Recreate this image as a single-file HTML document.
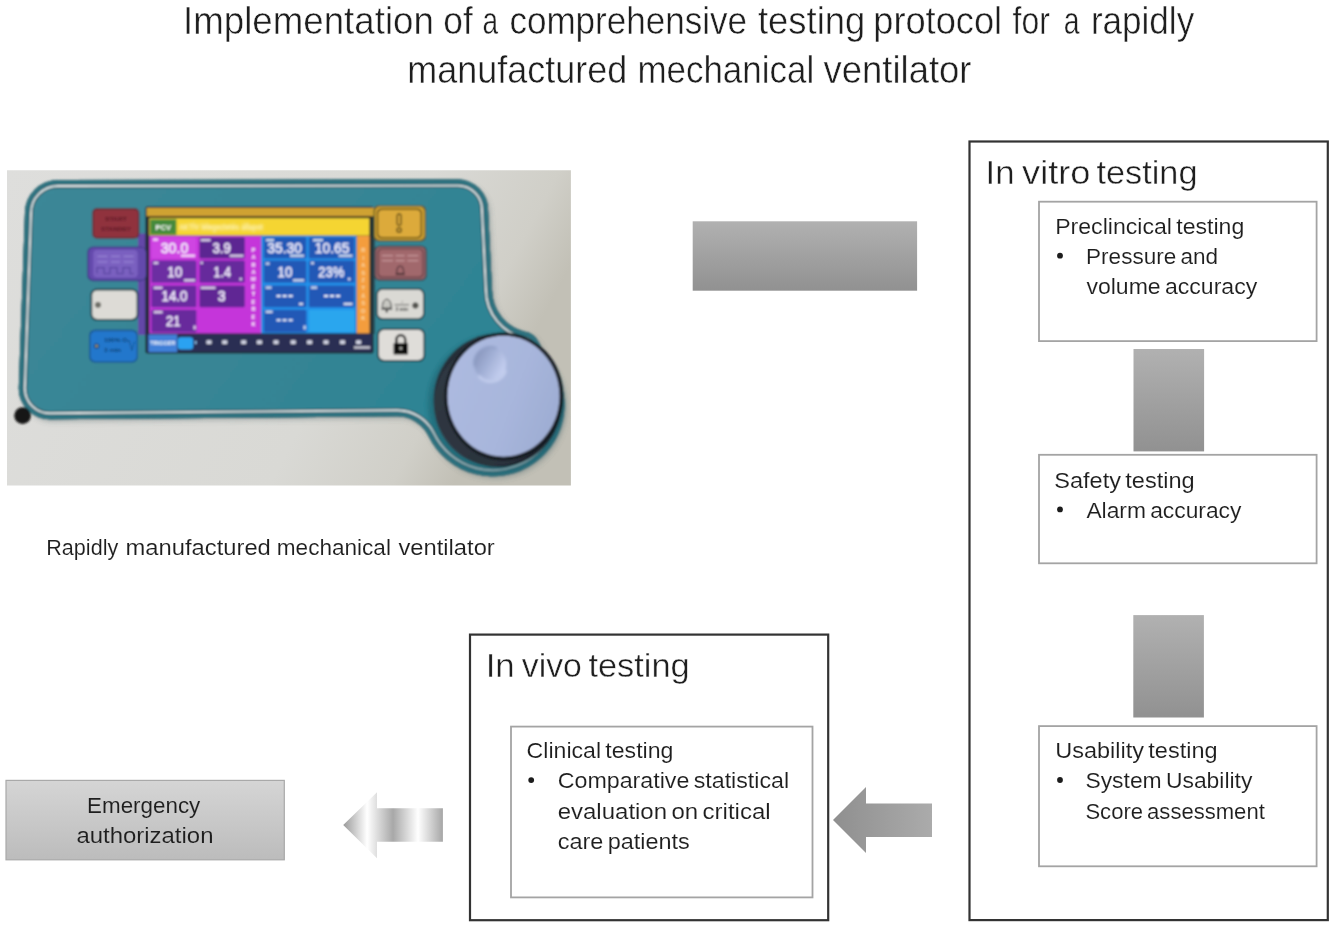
<!DOCTYPE html>
<html lang="en">
<head>
<meta charset="utf-8">
<title>Implementation of a comprehensive testing protocol for a rapidly manufactured mechanical ventilator</title>
<style>
  html, body { margin: 0; padding: 0; background: #ffffff; }
  body { width: 1333px; height: 926px; overflow: hidden; font-family: "Liberation Sans", sans-serif; }
  svg { display: block; will-change: transform; transform: translateZ(0); }
  text { font-family: "Liberation Sans", sans-serif; fill: #1e1e1e; stroke: #ffffff; stroke-width: 0.1px; word-spacing: -2px; }
  #title text { stroke-width: 0.5px; word-spacing: 0; }
  text.h2 { stroke-width: 0.42px; word-spacing: -3px; }
  text.scr { stroke: none; word-spacing: 0; }
  text.onGrey { stroke: #c8c8c8; }
</style>
</head>
<body>
<svg width="1333" height="926" viewBox="0 0 1333 926">
  <defs>
    <linearGradient id="gBar" x1="0" y1="0" x2="0" y2="1">
      <stop offset="0" stop-color="#b1b1b1"/>
      <stop offset="1" stop-color="#919191"/>
    </linearGradient>
    <linearGradient id="gEmerg" x1="0" y1="0" x2="0" y2="1">
      <stop offset="0" stop-color="#d5d5d5"/>
      <stop offset="1" stop-color="#bcbcbc"/>
    </linearGradient>
    <linearGradient id="gArrow1" x1="0" y1="0" x2="1" y2="0">
      <stop offset="0" stop-color="#8f8f8f"/>
      <stop offset="1" stop-color="#ababab"/>
    </linearGradient>
    <linearGradient id="gArrow2" x1="0" y1="0" x2="1" y2="0">
      <stop offset="0" stop-color="#9a9a9a"/>
      <stop offset="0.24" stop-color="#ffffff"/>
      <stop offset="0.5" stop-color="#a8a8a8"/>
      <stop offset="0.75" stop-color="#ffffff"/>
      <stop offset="1" stop-color="#a6a6a6"/>
    </linearGradient>
  </defs>

  <!-- ===== TITLE ===== -->
  <g id="title">
    <text x="183.0" y="33.6" font-size="39.5" textLength="250.9" lengthAdjust="spacingAndGlyphs">Implementation</text>
    <text x="443.3" y="33.6" font-size="39.5" textLength="29.4" lengthAdjust="spacingAndGlyphs">of</text>
    <text x="482.5" y="33.6" font-size="39.5" textLength="15.6" lengthAdjust="spacingAndGlyphs">a</text>
    <text x="509.4" y="33.6" font-size="39.5" textLength="237.7" lengthAdjust="spacingAndGlyphs">comprehensive</text>
    <text x="758.0" y="33.6" font-size="39.5" textLength="107.3" lengthAdjust="spacingAndGlyphs">testing</text>
    <text x="873.3" y="33.6" font-size="39.5" textLength="128.8" lengthAdjust="spacingAndGlyphs">protocol</text>
    <text x="1012.5" y="33.6" font-size="39.5" textLength="37.3" lengthAdjust="spacingAndGlyphs">for</text>
    <text x="1063.7" y="33.6" font-size="39.5" textLength="15.8" lengthAdjust="spacingAndGlyphs">a</text>
    <text x="1090.9" y="33.6" font-size="39.5" textLength="103.3" lengthAdjust="spacingAndGlyphs">rapidly</text>
    <text x="407.2" y="82.8" font-size="39.5" textLength="220.0" lengthAdjust="spacingAndGlyphs">manufactured</text>
    <text x="637.4" y="82.8" font-size="39.5" textLength="176.8" lengthAdjust="spacingAndGlyphs">mechanical</text>
    <text x="823.5" y="82.8" font-size="39.5" textLength="148.0" lengthAdjust="spacingAndGlyphs">ventilator</text>
  </g>

  <!-- ===== PHOTO (device) ===== -->
  <g id="photo">
    <defs>
      <clipPath id="photoClip"><rect x="7" y="170.2" width="563.9" height="315.2"/></clipPath>
      <path id="panelPath" d="M58,180 L458,179.6 A30,30 0 0 1 488,209.6 L492,290 A43,43 0 0 0 527,332.2 C534,333.6 540,341 543.6,354.4 A71.5,71.5 0 1 1 428.6,436.1 A35,35 0 0 0 397.1,416.3 L50,419.3 A31,31 0 0 1 18.8,388.5 L25,213 A33,33 0 0 1 58,180 Z"/>
      <clipPath id="panelClip"><use href="#panelPath"/></clipPath>
      <linearGradient id="gBg" x1="0" y1="0" x2="1" y2="0.3">
        <stop offset="0" stop-color="#dededc"/>
        <stop offset="0.7" stop-color="#d9d9d5"/>
        <stop offset="0.9" stop-color="#d0cfc8"/>
        <stop offset="1" stop-color="#c2c0b6"/>
      </linearGradient>
      <linearGradient id="gTeal" x1="0" y1="0" x2="1" y2="0.4">
        <stop offset="0" stop-color="#3c8797"/>
        <stop offset="0.55" stop-color="#378595"/>
        <stop offset="1" stop-color="#2b8494"/>
      </linearGradient>
      <linearGradient id="gRing" x1="0" y1="0" x2="1" y2="1">
        <stop offset="0" stop-color="#2a323c"/>
        <stop offset="1" stop-color="#1c2129"/>
      </linearGradient>
      <linearGradient id="gFace" x1="0" y1="0.2" x2="1" y2="0.6">
        <stop offset="0" stop-color="#adbae0"/>
        <stop offset="0.6" stop-color="#a8b6dc"/>
        <stop offset="1" stop-color="#9eadd3"/>
      </linearGradient>
      <linearGradient id="gDimple" x1="0.1" y1="0.25" x2="0.95" y2="0.75">
        <stop offset="0" stop-color="#8c9ac0"/>
        <stop offset="0.4" stop-color="#a2b0d6"/>
        <stop offset="1" stop-color="#c8d2f2"/>
      </linearGradient>
      <filter id="fSoft" x="-5%" y="-5%" width="110%" height="110%"><feGaussianBlur stdDeviation="0.9"/></filter>
      <filter id="fShadow" x="-10%" y="-10%" width="120%" height="120%"><feGaussianBlur stdDeviation="2.2"/></filter>
      <filter id="fTiny2" x="-20%" y="-40%" width="140%" height="180%"><feGaussianBlur stdDeviation="0.4"/></filter>
      <filter id="fTiny" x="-20%" y="-20%" width="140%" height="140%"><feGaussianBlur stdDeviation="0.8"/></filter>
    </defs>
    <g clip-path="url(#photoClip)">
      <rect x="7" y="170" width="564" height="316" fill="url(#gBg)"/>
      <g filter="url(#fSoft)">
        <!-- panel drop shadow -->
        <use href="#panelPath" transform="translate(2.5,3)" fill="#6f7f80" opacity="0.4" filter="url(#fShadow)"/>
        <!-- panel body -->
        <use href="#panelPath" fill="url(#gTeal)"/>
        <g clip-path="url(#panelClip)" fill="none">
          <use href="#panelPath" stroke="#24525c" stroke-width="16.4"/>
          <use href="#panelPath" stroke="#e0e8ea" stroke-width="14"/>
          <use href="#panelPath" stroke="#1f4e58" stroke-width="10.2"/>
          <use href="#panelPath" stroke="#2f7482" stroke-width="8.6"/>
          <use href="#panelPath" stroke="#2a6470" stroke-width="2"/>
        </g>
        <!-- black dot -->
        <circle cx="22.6" cy="415.6" r="8.4" fill="#141414"/>
        <!--SCREEN-->
        <rect x="138.0" y="233.5" width="11.0" height="101.5" rx="2" fill="#6346a8" />
        <rect x="145.4" y="206.4" width="228.2" height="147.0" rx="2" fill="#1d2a30" />
        <rect x="146.6" y="207.8" width="230.0" height="8.4" rx="0" fill="#cfa232" />
        <rect x="146.6" y="216.2" width="225.8" height="2.0" rx="0" fill="#3a3420" />
        <rect x="149.3" y="218.2" width="220.1" height="17.4" rx="0" fill="#f5d532" />
        <rect x="150.2" y="219.4" width="26.2" height="15.2" rx="0" fill="#458a3a" />
        <text class="scr" x="163.3" y="230.2" font-size="7.5" text-anchor="middle" font-weight="bold" style="fill:#ffffff" >PCV</text>
        <text class="scr" x="179" y="230.4" font-size="8.5" font-weight="bold" style="fill:#fffbe0" opacity="0.85" textLength="84" lengthAdjust="spacingAndGlyphs" filter="url(#fTiny)">AKTÍV lélegeztetés állapot</text>
        <rect x="149.3" y="235.8" width="112.1" height="97.6" rx="0" fill="#c536da" />
        <rect x="261.2" y="235.8" width="95.4" height="97.6" rx="0" fill="#2391ea" />
        <rect x="356.8" y="235.8" width="12.8" height="97.6" rx="0" fill="#f49d3c" />
        <rect x="151.4" y="237.2" width="45.0" height="21.2" rx="1.5" fill="#cf45e2" />
        <rect x="199.4" y="237.2" width="45.4" height="21.2" rx="1.5" fill="#5c2892" />
        <rect x="151.4" y="260.6" width="45.0" height="22.2" rx="1.5" fill="#6c2da2" />
        <rect x="199.4" y="260.6" width="45.4" height="22.2" rx="1.5" fill="#66299c" />
        <rect x="151.4" y="285.4" width="45.0" height="21.8" rx="1.5" fill="#6a2ba0" />
        <rect x="199.4" y="285.4" width="45.4" height="21.8" rx="1.5" fill="#602894" />
        <rect x="151.4" y="309.8" width="45.0" height="22.4" rx="1.5" fill="#67299c" />
        <rect x="263.8" y="237.2" width="42.6" height="21.2" rx="1.5" fill="#2459b6" />
        <rect x="308.8" y="237.2" width="45.8" height="21.2" rx="1.5" fill="#2459b6" />
        <rect x="263.8" y="260.6" width="42.6" height="22.2" rx="1.5" fill="#2459b6" />
        <rect x="308.8" y="260.6" width="45.8" height="22.2" rx="1.5" fill="#2459b6" />
        <rect x="263.8" y="285.4" width="42.6" height="21.8" rx="1.5" fill="#2459b6" />
        <rect x="308.8" y="285.4" width="45.8" height="21.8" rx="1.5" fill="#2459b6" />
        <rect x="263.8" y="309.8" width="42.6" height="22.4" rx="1.5" fill="#2459b6" />
        <rect x="308.8" y="309.8" width="45.8" height="22.4" rx="1.5" fill="#2ba6ee" />
        <text class="scr" x="174.5" y="253.0" font-size="14.5" text-anchor="middle" style="fill:#f6f2ff;stroke:#f6f2ff;stroke-width:0.45px" textLength="27.5" lengthAdjust="spacingAndGlyphs">30.0</text>
        <text class="scr" x="221.7" y="253.0" font-size="14.5" text-anchor="middle" style="fill:#f6f2ff;stroke:#f6f2ff;stroke-width:0.45px" textLength="18.4" lengthAdjust="spacingAndGlyphs">3.9</text>
        <text class="scr" x="174.8" y="277.2" font-size="14.5" text-anchor="middle" style="fill:#f6f2ff;stroke:#f6f2ff;stroke-width:0.45px" textLength="15.2" lengthAdjust="spacingAndGlyphs">10</text>
        <text class="scr" x="222.2" y="277.2" font-size="14.5" text-anchor="middle" style="fill:#f6f2ff;stroke:#f6f2ff;stroke-width:0.45px" textLength="17.4" lengthAdjust="spacingAndGlyphs">1.4</text>
        <text class="scr" x="174.5" y="301.2" font-size="14.5" text-anchor="middle" style="fill:#f6f2ff;stroke:#f6f2ff;stroke-width:0.45px" textLength="26" lengthAdjust="spacingAndGlyphs">14.0</text>
        <text class="scr" x="221.7" y="301.2" font-size="14.5" text-anchor="middle" style="fill:#f6f2ff;stroke:#f6f2ff;stroke-width:0.45px" textLength="7.8" lengthAdjust="spacingAndGlyphs">3</text>
        <text class="scr" x="173.3" y="326.4" font-size="14.5" text-anchor="middle" style="fill:#f6f2ff;stroke:#f6f2ff;stroke-width:0.45px" textLength="14.6" lengthAdjust="spacingAndGlyphs">21</text>
        <text class="scr" x="284.6" y="253.0" font-size="14.5" text-anchor="middle" style="fill:#f6f2ff;stroke:#f6f2ff;stroke-width:0.45px" textLength="34.6" lengthAdjust="spacingAndGlyphs">35.30</text>
        <text class="scr" x="332.1" y="253.0" font-size="14.5" text-anchor="middle" style="fill:#f6f2ff;stroke:#f6f2ff;stroke-width:0.45px" textLength="34.6" lengthAdjust="spacingAndGlyphs">10.65</text>
        <text class="scr" x="285.0" y="277.2" font-size="14.5" text-anchor="middle" style="fill:#f6f2ff;stroke:#f6f2ff;stroke-width:0.45px" textLength="14.8" lengthAdjust="spacingAndGlyphs">10</text>
        <text class="scr" x="331.2" y="277.2" font-size="14.5" text-anchor="middle" style="fill:#f6f2ff;stroke:#f6f2ff;stroke-width:0.45px" textLength="26" lengthAdjust="spacingAndGlyphs">23%</text>
        <rect x="276.5" y="295.0" width="4.2" height="2.0" rx="0" fill="#e8f0ff" />
        <rect x="282.5" y="295.0" width="4.2" height="2.0" rx="0" fill="#e8f0ff" />
        <rect x="288.5" y="295.0" width="4.2" height="2.0" rx="0" fill="#e8f0ff" />
        <rect x="324.0" y="295.0" width="4.2" height="2.0" rx="0" fill="#e8f0ff" />
        <rect x="330.0" y="295.0" width="4.2" height="2.0" rx="0" fill="#e8f0ff" />
        <rect x="336.0" y="295.0" width="4.2" height="2.0" rx="0" fill="#e8f0ff" />
        <rect x="276.5" y="319.2" width="4.2" height="2.0" rx="0" fill="#e8f0ff" />
        <rect x="282.5" y="319.2" width="4.2" height="2.0" rx="0" fill="#e8f0ff" />
        <rect x="288.5" y="319.2" width="4.2" height="2.0" rx="0" fill="#e8f0ff" />
        <g filter="url(#fTiny2)" opacity="0.95"><rect x="181.0" y="254.6" width="14.0" height="2.2" fill="#ffffff" opacity="0.85"/><rect x="229.5" y="254.6" width="14.0" height="2.2" fill="#ffffff" opacity="0.85"/><rect x="290.0" y="254.6" width="14.0" height="2.2" fill="#ffffff" opacity="0.85"/><rect x="338.5" y="254.6" width="14.0" height="2.2" fill="#ffffff" opacity="0.85"/><rect x="184.0" y="279.2" width="11.0" height="2.2" fill="#ffffff" opacity="0.85"/><rect x="239.5" y="277.8" width="2.4" height="2.6" fill="#ffffff" opacity="0.85"/><rect x="293.0" y="279.2" width="11.0" height="2.2" fill="#ffffff" opacity="0.85"/><rect x="348.0" y="277.8" width="2.4" height="2.6" fill="#ffffff" opacity="0.85"/><rect x="299.0" y="302.8" width="4.0" height="2.2" fill="#ffffff" opacity="0.85"/><rect x="343.5" y="302.8" width="9.0" height="2.2" fill="#ffffff" opacity="0.85"/><rect x="193.5" y="325.5" width="2.2" height="4" fill="#ffffff" opacity="0.85"/><rect x="303.5" y="325.5" width="2.2" height="4" fill="#ffffff" opacity="0.85"/><rect x="153.0" y="238.4" width="5.0" height="2.4" fill="#ffffff" opacity="0.8"/><rect x="200.6" y="239.0" width="10.0" height="2.4" fill="#ffffff" opacity="0.8"/><rect x="153.4" y="261.8" width="5.0" height="2.4" fill="#ffffff" opacity="0.8"/><rect x="200.4" y="261.6" width="2.5" height="2.4" fill="#ffffff" opacity="0.8"/><rect x="153.6" y="286.6" width="9.0" height="2.4" fill="#ffffff" opacity="0.8"/><rect x="200.6" y="286.6" width="15.0" height="2.4" fill="#ffffff" opacity="0.8"/><rect x="153.6" y="311.0" width="9.0" height="2.4" fill="#ffffff" opacity="0.8"/><rect x="266.0" y="239.0" width="8.0" height="2.4" fill="#ffffff" opacity="0.8"/><rect x="313.0" y="239.0" width="10.0" height="2.4" fill="#ffffff" opacity="0.8"/><rect x="265.6" y="262.4" width="4.0" height="2.4" fill="#ffffff" opacity="0.8"/><rect x="311.0" y="262.0" width="3.0" height="2.4" fill="#ffffff" opacity="0.8"/><rect x="265.6" y="286.4" width="6.0" height="2.4" fill="#ffffff" opacity="0.8"/><rect x="311.0" y="286.4" width="6.0" height="2.4" fill="#ffffff" opacity="0.8"/><rect x="265.6" y="310.6" width="7.0" height="2.4" fill="#ffffff" opacity="0.8"/></g>
        <text class="scr" x="253.4" y="251.6" font-size="5.6" text-anchor="middle" font-weight="bold" style="fill:#ffffff" >P</text>
        <text class="scr" x="253.4" y="259.1" font-size="5.6" text-anchor="middle" font-weight="bold" style="fill:#ffffff" >A</text>
        <text class="scr" x="253.4" y="266.5" font-size="5.6" text-anchor="middle" font-weight="bold" style="fill:#ffffff" >R</text>
        <text class="scr" x="253.4" y="273.9" font-size="5.6" text-anchor="middle" font-weight="bold" style="fill:#ffffff" >A</text>
        <text class="scr" x="253.4" y="281.4" font-size="5.6" text-anchor="middle" font-weight="bold" style="fill:#ffffff" >M</text>
        <text class="scr" x="253.4" y="288.9" font-size="5.6" text-anchor="middle" font-weight="bold" style="fill:#ffffff" >É</text>
        <text class="scr" x="253.4" y="296.3" font-size="5.6" text-anchor="middle" font-weight="bold" style="fill:#ffffff" >T</text>
        <text class="scr" x="253.4" y="303.8" font-size="5.6" text-anchor="middle" font-weight="bold" style="fill:#ffffff" >E</text>
        <text class="scr" x="253.4" y="311.2" font-size="5.6" text-anchor="middle" font-weight="bold" style="fill:#ffffff" >R</text>
        <text class="scr" x="253.4" y="318.6" font-size="5.6" text-anchor="middle" font-weight="bold" style="fill:#ffffff" >E</text>
        <text class="scr" x="253.4" y="326.1" font-size="5.6" text-anchor="middle" font-weight="bold" style="fill:#ffffff" >K</text>
        <text class="scr" x="363.2" y="252.0" font-size="5.4" text-anchor="middle" font-weight="bold" style="fill:#ffe6b8" opacity="0.9">R</text>
        <text class="scr" x="363.2" y="259.6" font-size="5.4" text-anchor="middle" font-weight="bold" style="fill:#ffe6b8" opacity="0.9">I</text>
        <text class="scr" x="363.2" y="267.2" font-size="5.4" text-anchor="middle" font-weight="bold" style="fill:#ffe6b8" opacity="0.9">A</text>
        <text class="scr" x="363.2" y="274.8" font-size="5.4" text-anchor="middle" font-weight="bold" style="fill:#ffe6b8" opacity="0.9">S</text>
        <text class="scr" x="363.2" y="282.4" font-size="5.4" text-anchor="middle" font-weight="bold" style="fill:#ffe6b8" opacity="0.9">Z</text>
        <text class="scr" x="363.2" y="290.0" font-size="5.4" text-anchor="middle" font-weight="bold" style="fill:#ffe6b8" opacity="0.9">T</text>
        <text class="scr" x="363.2" y="297.6" font-size="5.4" text-anchor="middle" font-weight="bold" style="fill:#ffe6b8" opacity="0.9">Á</text>
        <text class="scr" x="363.2" y="305.2" font-size="5.4" text-anchor="middle" font-weight="bold" style="fill:#ffe6b8" opacity="0.9">S</text>
        <text class="scr" x="363.2" y="312.8" font-size="5.4" text-anchor="middle" font-weight="bold" style="fill:#ffe6b8" opacity="0.9">O</text>
        <text class="scr" x="363.2" y="320.4" font-size="5.4" text-anchor="middle" font-weight="bold" style="fill:#ffe6b8" opacity="0.9">K</text>
        <rect x="147.4" y="334.0" width="224.6" height="18.2" rx="0" fill="#2b2e53" />
        <rect x="148.4" y="334.4" width="28.8" height="17.8" rx="0" fill="#3f80d8" />
        <rect x="177.8" y="337.2" width="15.4" height="12.4" rx="3" fill="#2ba2f2" />
        <text class="scr" x="162.8" y="345.2" font-size="5.6" font-weight="bold" text-anchor="middle" style="fill:#ffffff" textLength="25" lengthAdjust="spacingAndGlyphs">TRIGGER</text>
        <rect x="206.4" y="340.2" width="5.2" height="3.8" rx="0.8" fill="#e6e8f4" opacity="0.9"/>
        <rect x="222.1" y="340.2" width="5.2" height="3.8" rx="0.8" fill="#e6e8f4" opacity="0.9"/>
        <rect x="241.1" y="340.2" width="5.2" height="3.8" rx="0.8" fill="#e6e8f4" opacity="0.9"/>
        <rect x="256.8" y="340.2" width="5.2" height="3.8" rx="0.8" fill="#e6e8f4" opacity="0.9"/>
        <rect x="273.4" y="340.2" width="5.2" height="3.8" rx="0.8" fill="#e6e8f4" opacity="0.9"/>
        <rect x="290.6" y="340.2" width="5.2" height="3.8" rx="0.8" fill="#e6e8f4" opacity="0.9"/>
        <rect x="307.0" y="340.2" width="5.2" height="3.8" rx="0.8" fill="#e6e8f4" opacity="0.9"/>
        <rect x="323.4" y="340.2" width="5.2" height="3.8" rx="0.8" fill="#e6e8f4" opacity="0.9"/>
        <rect x="339.9" y="340.2" width="5.2" height="3.8" rx="0.8" fill="#e6e8f4" opacity="0.9"/>
        <rect x="356.0" y="340.2" width="5.2" height="3.8" rx="0.8" fill="#e6e8f4" opacity="0.9"/>
        <g filter="url(#fTiny2)" opacity="0.95"><rect x="354.0" y="346.4" width="16.0" height="2.2" fill="#ffffff" opacity="0.85"/></g>
        <rect x="195.0" y="341.0" width="1.4" height="3.0" rx="0" fill="#9fd4ff" />
        <!--/SCREEN-->
        <!--BUTTONS-->
        <rect x="372.6" y="238.0" width="2.4" height="96.0" rx="0" fill="#2a4a52" />
        <rect x="92.2" y="208.0" width="47.2" height="30.8" rx="5" fill="#5a2a35" />
        <rect x="93.6" y="209.4" width="44.4" height="28.0" rx="4" fill="#90303d" />
        <text class="scr" x="116" y="221.4" font-size="5.6" font-weight="bold" text-anchor="middle" style="fill:#5a1c26" textLength="22" lengthAdjust="spacingAndGlyphs">START</text>
        <text class="scr" x="116" y="231.4" font-size="5.6" font-weight="bold" text-anchor="middle" style="fill:#5a1c26" textLength="30" lengthAdjust="spacingAndGlyphs">STANDBY</text>
        <rect x="87.2" y="246.4" width="58.8" height="34.8" rx="6" fill="#3f3a86" />
        <rect x="88.6" y="247.8" width="57.4" height="32.0" rx="5" fill="#6348ac" />
        <rect x="93.2" y="250.0" width="44.4" height="27.6" rx="4" fill="#7a60c0" />
        <g stroke="#9a86d6" stroke-width="1.3" fill="none" opacity="0.95"><path d="M97.5,256.4h10 M111,256.4h9 M123.6,256.4h10 M97.5,261.8h10 M111,261.8h9 M123.6,261.8h10"/><path d="M97,273.6v-6h7v6h6v-6h7v6h6v-6h7v6h4" stroke="#5a45a0"/></g>
        <rect x="90.4" y="288.6" width="48.0" height="32.2" rx="6.5" fill="#23444d" />
        <rect x="92.2" y="290.4" width="44.4" height="28.6" rx="5" fill="#dddbd6" />
        <circle cx="98" cy="304.8" r="2.9" fill="#55554f"/><circle cx="98" cy="304.8" r="1.2" fill="#8a8a80"/>
        <rect x="89.0" y="329.6" width="49.0" height="33.2" rx="6" fill="#1c5a96" />
        <rect x="90.6" y="331.2" width="46.0" height="30.0" rx="5" fill="#2277cc" />
        <circle cx="96.6" cy="346" r="2.6" fill="#14416e"/><circle cx="96.6" cy="346" r="1.1" fill="#d8c070"/>
        <text class="scr" x="117" y="342.4" font-size="5.8" font-weight="bold" text-anchor="middle" style="fill:#123e6e" textLength="26" lengthAdjust="spacingAndGlyphs">100% O₂</text>
        <text class="scr" x="112.5" y="352.2" font-size="5.8" font-weight="bold" text-anchor="middle" style="fill:#123e6e" textLength="17" lengthAdjust="spacingAndGlyphs">3 min</text>
        <path d="M129.4,341.5 l2.4,9 l2.6,-9" stroke="#1a5590" stroke-width="1" fill="none"/>
        <rect x="373.6" y="205.4" width="52.4" height="36.0" rx="5" fill="#54501f" opacity="0.9"/>
        <rect x="374.8" y="206.6" width="50.0" height="33.6" rx="5" fill="#c99c33" />
        <rect x="377.0" y="208.8" width="44.8" height="29.4" rx="4.5" fill="#5c4a18" />
        <rect x="378.2" y="210.0" width="42.4" height="27.0" rx="4" fill="#dcaa3a" />
        <g fill="none" stroke="#5a4718" stroke-width="1.3"><rect x="397.2" y="214" width="3.8" height="11.4" rx="1.7"/><circle cx="399.1" cy="230" r="2.2"/></g>
        <rect x="374.0" y="245.4" width="53.0" height="35.6" rx="6" fill="#3a4046" opacity="0.85"/>
        <rect x="375.4" y="246.8" width="50.2" height="32.8" rx="5" fill="#946065" />
        <rect x="377.6" y="248.4" width="46.0" height="29.4" rx="4.5" fill="#6a4448" />
        <rect x="378.8" y="249.6" width="43.6" height="27.0" rx="4" fill="#a1676c" />
        <g stroke="#c6979a" stroke-width="1.3" fill="none"><path d="M382,255.6h11 M395.6,255.6h9 M407.4,255.6h11 M382,260.6h11 M395.6,260.6h9 M407.4,260.6h11"/></g>
        <path d="M396.6,273.6 q0,-7.6 3.6,-7.6 q3.6,0 3.6,7.6 z M395.6,274.4h9.2" stroke="#4a3034" stroke-width="1.1" fill="#a1676c"/>
        <rect x="376.0" y="288.0" width="48.8" height="32.0" rx="6.5" fill="#23444d" />
        <rect x="377.8" y="289.8" width="45.2" height="28.4" rx="5" fill="#dad9d4" />
        <path d="M382.2,308.2 q0.4,-9 4.6,-9 q4.2,0 4.6,9 z M381.4,309.2 h10.8" stroke="#2a2a2a" stroke-width="1" fill="#c8c8c2"/><circle cx="386.8" cy="311.2" r="1.2" fill="#2a2a2a"/>
        <path d="M394.6,304.8h14.5" stroke="#3a3a3a" stroke-width="0.8"/><text class="scr" x="401.8" y="311.4" font-size="4.8" font-weight="bold" text-anchor="middle" style="fill:#3a3a3a">3 min</text><text class="scr" x="402" y="303.4" font-size="4.2" text-anchor="middle" style="fill:#555">♪</text>
        <circle cx="415.4" cy="305.6" r="3" fill="#33332f"/><circle cx="415.4" cy="305.6" r="1.1" fill="#8a8a82"/>
        <rect x="377.2" y="328.2" width="48.0" height="33.6" rx="6.5" fill="#23444d" />
        <rect x="379.0" y="330.0" width="44.4" height="30.0" rx="5" fill="#dfddd9" />
        <g><path d="M396.4,343.6 v-3.8 a4.4,4.6 0 0 1 8.8,0 v3.8" fill="none" stroke="#0d0d0d" stroke-width="2.3"/><rect x="393.6" y="343" width="14.4" height="11.6" rx="1.2" fill="#0d0d0d"/><circle cx="400.8" cy="348.4" r="1.4" fill="#bdbdb8"/></g>
        <!--/BUTTONS-->
        <!--KNOB-->
        <ellipse cx="496" cy="404" rx="68" ry="69" fill="#1c5d6a" opacity="0.55" filter="url(#fShadow)"/>
        <ellipse cx="498" cy="400.3" rx="64.4" ry="66.7" fill="url(#gRing)"/>
        <ellipse cx="494" cy="405" rx="60" ry="61" fill="#36404a" opacity="0.55"/>
        <ellipse cx="503.8" cy="396.6" rx="59.6" ry="64" fill="#161b22"/>
        <ellipse cx="503.5" cy="396.2" rx="56" ry="60.5" fill="url(#gFace)"/>
        <ellipse cx="490.2" cy="364" rx="16" ry="16.6" fill="url(#gDimple)" filter="url(#fTiny)"/>
        <path d="M478.5,375.6 a16,16.6 0 0 0 27.4,-5.4" fill="none" stroke="#ccd6f2" stroke-width="2.2" opacity="0.95" filter="url(#fTiny)"/>
        <path d="M474.6,366 a16,16.6 0 0 1 22,-17.6" fill="none" stroke="#8797be" stroke-width="2" opacity="0.85" filter="url(#fTiny)"/>
        <!--/KNOB-->
      </g>
    </g>
  </g>

  <!-- caption -->
  <g id="caption">
    <text x="46.3" y="554.5" font-size="21.5" textLength="71.9" lengthAdjust="spacingAndGlyphs">Rapidly</text>
    <text x="125.6" y="554.5" font-size="21.5" textLength="145.2" lengthAdjust="spacingAndGlyphs">manufactured</text>
    <text x="276.8" y="554.5" font-size="21.5" textLength="114.1" lengthAdjust="spacingAndGlyphs">mechanical</text>
    <text x="398.4" y="554.5" font-size="21.5" textLength="96.4" lengthAdjust="spacingAndGlyphs">ventilator</text>
  </g>

  <!-- ===== TOP GREY BAR ===== -->
  <rect x="692.7" y="221.3" width="224.4" height="69.4" fill="url(#gBar)"/>

  <!-- ===== IN VITRO BOX ===== -->
  <g id="invitro">
    <rect x="969.5" y="141.5" width="358.3" height="778.6" fill="#ffffff" stroke="#333333" stroke-width="2.2"/>
    <text class="h2" x="985.5" y="184.4" font-size="32.5" textLength="29.0" lengthAdjust="spacingAndGlyphs">In</text>
    <text class="h2" x="1022.0" y="184.4" font-size="32.5" textLength="68.5" lengthAdjust="spacingAndGlyphs">vitro</text>
    <text class="h2" x="1096.5" y="184.4" font-size="32.5" textLength="101.0" lengthAdjust="spacingAndGlyphs">testing</text>

    <rect x="1039" y="201.7" width="277.6" height="139.4" fill="#ffffff" stroke="#a4a4a4" stroke-width="1.8"/>
    <text x="1055.2" y="233.6" font-size="21.5" textLength="189.1" lengthAdjust="spacingAndGlyphs">Preclincical testing</text>
    <circle cx="1060" cy="255.7" r="2.9" fill="#1c1c1c"/>
    <text x="1086.1" y="263.6" font-size="21.5" textLength="131.9" lengthAdjust="spacingAndGlyphs">Pressure and</text>
    <text x="1086.4" y="293.9" font-size="21.5" textLength="170.8" lengthAdjust="spacingAndGlyphs">volume accuracy</text>

    <rect x="1133.5" y="349" width="70.6" height="102.4" fill="url(#gBar)"/>

    <rect x="1039" y="454.8" width="277.6" height="108.5" fill="#ffffff" stroke="#a4a4a4" stroke-width="1.8"/>
    <text x="1054.2" y="487.6" font-size="21.5" textLength="140.5" lengthAdjust="spacingAndGlyphs">Safety testing</text>
    <circle cx="1060" cy="509.4" r="2.9" fill="#1c1c1c"/>
    <text x="1086.4" y="517.6" font-size="21.5" textLength="155.0" lengthAdjust="spacingAndGlyphs">Alarm accuracy</text>

    <rect x="1133.3" y="615.1" width="70.6" height="102.4" fill="url(#gBar)"/>

    <rect x="1039" y="726.1" width="277.6" height="140.2" fill="#ffffff" stroke="#a4a4a4" stroke-width="1.8"/>
    <text x="1055.2" y="758" font-size="21.5" textLength="162.4" lengthAdjust="spacingAndGlyphs">Usability testing</text>
    <circle cx="1060" cy="780" r="2.9" fill="#1c1c1c"/>
    <text x="1085.4" y="788.4" font-size="21.5" textLength="167.0" lengthAdjust="spacingAndGlyphs">System Usability</text>
    <text x="1085.4" y="818.9" font-size="21.5" textLength="179.4" lengthAdjust="spacingAndGlyphs">Score assessment</text>
  </g>

  <!-- ===== ARROW 1 (in vitro -> in vivo) ===== -->
  <polygon points="833,820 866,787 866,803.5 932,803.5 932,837 866,837 866,853" fill="url(#gArrow1)"/>

  <!-- ===== IN VIVO BOX ===== -->
  <g id="invivo">
    <rect x="470" y="634.6" width="358.2" height="285.6" fill="#ffffff" stroke="#333333" stroke-width="2.2"/>
    <text class="h2" x="485.7" y="676.8" font-size="32.5" textLength="29.0" lengthAdjust="spacingAndGlyphs">In</text>
    <text class="h2" x="521.8" y="676.8" font-size="32.5" textLength="60.1" lengthAdjust="spacingAndGlyphs">vivo</text>
    <text class="h2" x="588.4" y="676.8" font-size="32.5" textLength="101.3" lengthAdjust="spacingAndGlyphs">testing</text>
    <rect x="511" y="726.6" width="301.5" height="170.8" fill="#ffffff" stroke="#a4a4a4" stroke-width="1.8"/>
    <text x="526.6" y="757.7" font-size="21.5" textLength="146.8" lengthAdjust="spacingAndGlyphs">Clinical testing</text>
    <circle cx="531.2" cy="780.1" r="2.9" fill="#1c1c1c"/>
    <text x="557.7" y="788.3" font-size="21.5" textLength="231.5" lengthAdjust="spacingAndGlyphs">Comparative statistical</text>
    <text x="557.7" y="818.6" font-size="21.5" textLength="212.9" lengthAdjust="spacingAndGlyphs">evaluation on critical</text>
    <text x="557.7" y="848.7" font-size="21.5" textLength="132.1" lengthAdjust="spacingAndGlyphs">care patients</text>
  </g>

  <!-- ===== ARROW 2 (in vivo -> emergency) ===== -->
  <polygon points="343.2,825 377,792.3 377,808.3 442.9,808.3 442.9,841.7 377,841.7 377,858.2" fill="url(#gArrow2)"/>

  <!-- ===== EMERGENCY BOX ===== -->
  <g id="emergency">
    <rect x="6" y="780.4" width="278.3" height="79.4" fill="url(#gEmerg)" stroke="#a9a9a9" stroke-width="1.2"/>
    <text class="onGrey" x="87.1" y="813.1" font-size="21.5" textLength="113.2" lengthAdjust="spacingAndGlyphs">Emergency</text>
    <text class="onGrey" x="76.4" y="843.4" font-size="21.5" textLength="137.1" lengthAdjust="spacingAndGlyphs">authorization</text>
  </g>
</svg>
</body>
</html>
